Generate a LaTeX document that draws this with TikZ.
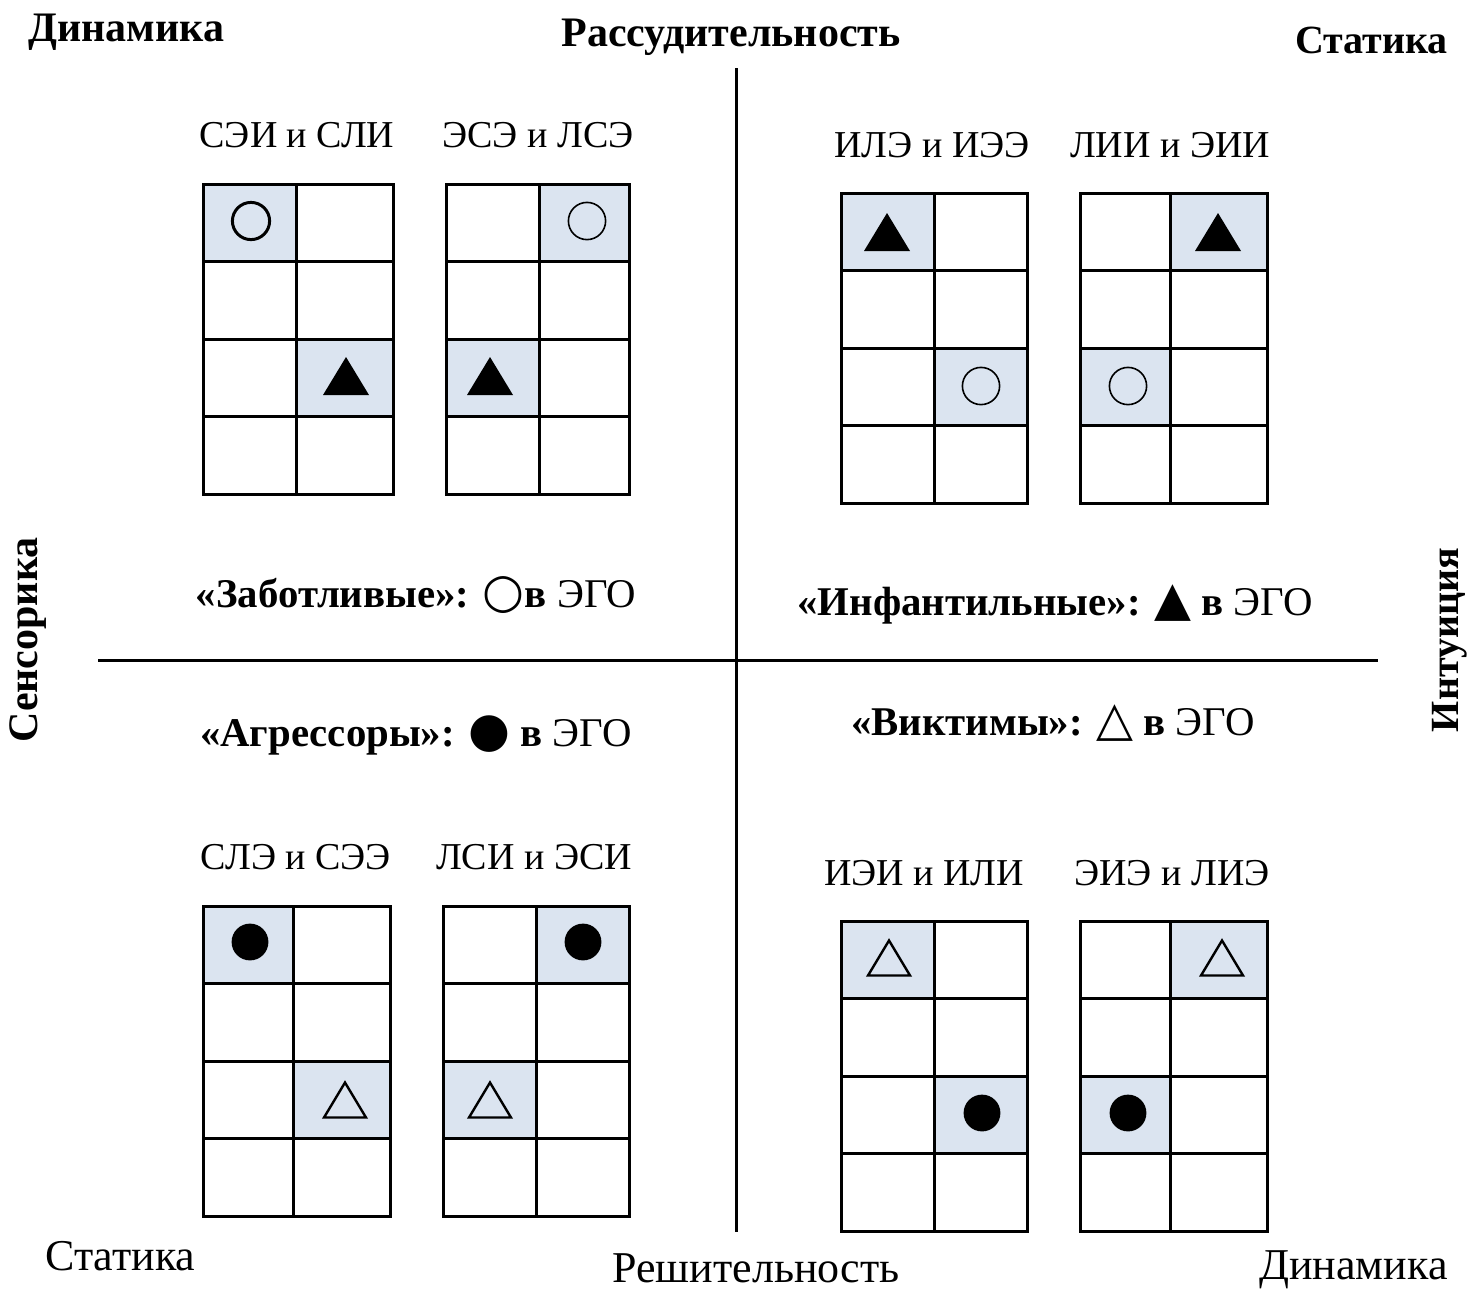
\documentclass[tikz,border=0pt]{standalone}
\usepackage{fontspec}
\setmainfont{Liberation Serif}
\newfontfamily\symfont{DejaVu Sans}
\definecolor{cellblue}{RGB}{219,228,240}
\tikzset{
  gridline/.style={line width=1.5pt},
  axisline/.style={line width=1.5pt},
  cornerlbl/.style={font=\bfseries\fontsize{20}{24}\selectfont, inner sep=0pt},
  bigcorner/.style={font=\bfseries\fontsize{21}{25}\selectfont, inner sep=0pt},
  bottomlbl/.style={font=\fontsize{22}{26}\selectfont, inner sep=0pt},
  pairlbl/.style={font=\fontsize{19}{23}\selectfont, inner sep=0pt},
  typelbl/.style={font=\fontsize{20.4}{24}\selectfont, inner sep=0pt},
}
% grid: left x, mid x, right x, top y
\newcommand\egogrid[4]{%
  \draw[gridline] (#1,#4) rectangle (#3,{#4+310});
  \draw[gridline] (#2,#4) -- (#2,{#4+310});
  \foreach \k in {1,2,3} {\draw[gridline] (#1,{#4+77.5*\k}) -- (#3,{#4+77.5*\k});}
}
% shaded cell: x0, x1, top y, row
\newcommand\cellshade[4]{\fill[cellblue] (#1,{#3+77.5*#4}) rectangle (#2,{#3+77.5*(#4+1)});}
\newcommand\hollowcirc[3]{\draw[line width=#3] (#1,#2) circle[radius=9.3pt];}
\newcommand\filledcirc[2]{\fill (#1,#2) circle[radius=9.2pt];}
\newcommand\filledtri[2]{\fill ({#1-23},{#2+19}) -- ({#1+23},{#2+19}) -- (#1,{#2-19}) -- cycle;}
\newcommand\hollowtri[2]{\draw[line width=1.2pt, line join=miter] ({#1-21},{#2+17.5}) -- ({#1+21},{#2+17.5}) -- (#1,{#2-17.5}) -- cycle;}
\newcommand\sy[1]{{\symfont\fontsize{24}{24}\selectfont #1}}
\begin{document}
\begin{tikzpicture}[x=0.5pt,y=-0.5pt]
\useasboundingbox (0,0) rectangle (1470,1292);
\fill[white] (0,0) rectangle (1470,1292);

% axes
\coordinate (vtop) at (736,68);
\coordinate (vbot) at (736,1232);
\coordinate (hleft) at (98,660);
\coordinate (hright) at (1378,660);
\draw[axisline] (vtop) -- (vbot);
\draw[axisline] (hleft) -- (hright);

% corner / axis labels
\node[bigcorner, anchor=west] (tl) at (28,32) {Динамика};
\node[bigcorner] (topl) at (731,37) {Рассудительность};
\node[cornerlbl, anchor=east] (tr) at (1448,40) {Статика};
\node[bigcorner, rotate=90] (leftl) at (28,640) {Сенсорика};
\node[cornerlbl, rotate=90] (rightl) at (1450,640) {Интуиция};
\node[bottomlbl, anchor=west] (bl) at (45,1256) {Статика};
\node[bottomlbl] (botl) at (756,1268) {Решительность};
\node[bottomlbl, anchor=east] (br) at (1448,1270) {Динамика};

% pair labels
\node[pairlbl] (p1) at (297,135) {СЭИ и СЛИ};
\node[pairlbl] (p2) at (538,135) {ЭСЭ и ЛСЭ};
\node[pairlbl] (p3) at (932,145) {ИЛЭ и ИЭЭ};
\node[pairlbl] (p4) at (1170,145) {ЛИИ и ЭИИ};
\node[pairlbl] (p5) at (296,857) {СЛЭ и СЭЭ};
\node[pairlbl] (p6) at (534,857) {ЛСИ и ЭСИ};
\node[pairlbl] (p7) at (924,873) {ИЭИ и ИЛИ};
\node[pairlbl] (p8) at (1172,873) {ЭИЭ и ЛИЭ};

% type labels
\node[typelbl] (t1) at (416,595) {\textbf{«Заботливые»:} \sy{○}\textbf{в} ЭГО};
\node[typelbl] (t2) at (1055,604) {\textbf{«Инфантильные»:} \sy{▲} \textbf{в} ЭГО};
\node[typelbl] (t3) at (416,735) {\textbf{«Агрессоры»:} \sy{●} \textbf{в} ЭГО};
\node[typelbl] (t4) at (1053,723) {\textbf{«Виктимы»:} \sy{△} \textbf{в} ЭГО};

% shaded cells
\cellshade{203}{296}{184}{0}
\cellshade{296}{393}{184}{2}
\cellshade{539}{629}{184}{0}
\cellshade{446}{539}{184}{2}
\cellshade{841}{934}{193}{0}
\cellshade{934}{1027}{193}{2}
\cellshade{1170}{1267}{193}{0}
\cellshade{1080}{1170}{193}{2}
\cellshade{203}{293}{906}{0}
\cellshade{293}{390}{906}{2}
\cellshade{536}{629}{906}{0}
\cellshade{443}{536}{906}{2}
\cellshade{841}{934}{921}{0}
\cellshade{934}{1027}{921}{2}
\cellshade{1170}{1267}{921}{0}
\cellshade{1080}{1170}{921}{2}

% grids
\egogrid{203}{296}{393}{184}
\egogrid{446}{539}{629}{184}
\egogrid{841}{934}{1027}{193}
\egogrid{1080}{1170}{1267}{193}
\egogrid{203}{293}{390}{906}
\egogrid{443}{536}{629}{906}
\egogrid{841}{934}{1027}{921}
\egogrid{1080}{1170}{1267}{921}

% symbols
\hollowcirc{251}{221}{1.5pt}
\filledtri{346}{376}
\hollowcirc{587}{221}{0.8pt}
\filledtri{490}{376}
\filledtri{887}{232}
\hollowcirc{981}{386}{0.8pt}
\filledtri{1218}{232}
\hollowcirc{1128}{386}{0.8pt}
\filledcirc{250}{942}
\hollowtri{345}{1100}
\filledcirc{583}{942}
\hollowtri{490}{1100}
\hollowtri{889}{958}
\filledcirc{982}{1113}
\hollowtri{1222}{958}
\filledcirc{1128}{1113}
\end{tikzpicture}
\end{document}
